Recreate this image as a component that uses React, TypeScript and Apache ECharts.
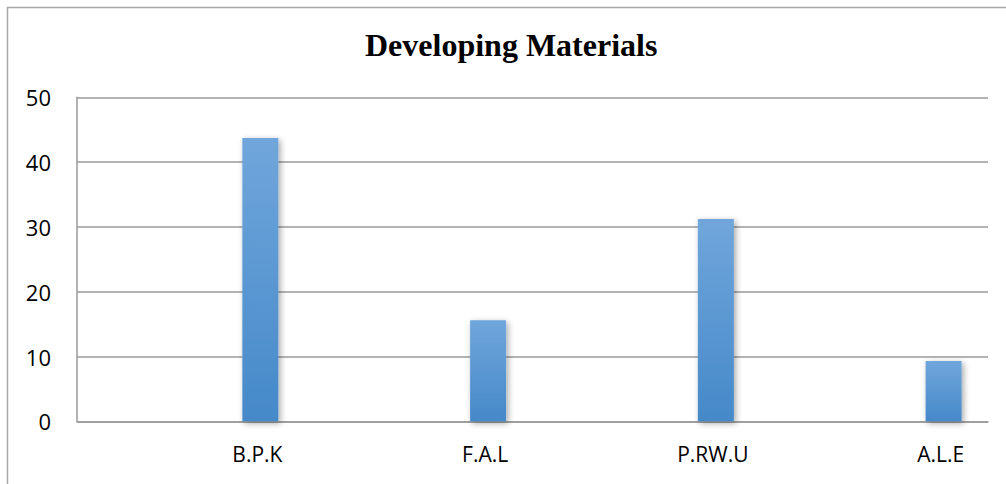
import React, { useEffect, useRef } from "react";
import * as echarts from "echarts";

const categories = ["B.P.K", "F.A.L", "P.RW.U", "A.L.E"];
const values = [43.7, 15.6, 31.2, 9.3];
const emptySeries = [null, null, null, null];
const yTicks = { min: 0, max: 50, interval: 10 };
const titleText = "Developing Materials";

export default function App() {
  const ref = useRef<HTMLDivElement>(null);
  useEffect(() => {
    if (!ref.current) return;
    const chart = echarts.init(ref.current, null, { renderer: "svg" });
    const barColor = new echarts.graphic.LinearGradient(0, 0, 0, 1, [
      { offset: 0, color: "#70a6db" },
      { offset: 1, color: "#4589c9" },
    ]);
    chart.setOption({
      animation: false,
      backgroundColor: "#ffffff",
      title: {
        text: titleText,
        left: 365,
        top: 29,
        padding: 0,
        textStyle: {
          fontFamily: "Liberation Serif",
          fontWeight: "bold",
          fontSize: 32,
          color: "#000000",
        },
      },
      graphic: [
        {
          type: "rect",
          shape: { x: 7.5, y: 7.5, width: 1100, height: 600 },
          style: { fill: "none", stroke: "#a6a6a6", lineWidth: 1.5 },
          silent: true,
        },
      ],
      grid: { left: 77, right: 18, top: 97.3, bottom: 62.7 },
      xAxis: {
        type: "category",
        data: categories,
        axisLine: { show: true, lineStyle: { color: "#9a9a9a", width: 1.5 } },
        axisTick: { show: false },
        axisLabel: {
          fontFamily: "Open Sans",
          fontSize: 21,
          color: "#000000",
          margin: 22,
          padding: [0, 0, 0, 133],
        },
      },
      yAxis: {
        type: "value",
        min: yTicks.min,
        max: yTicks.max,
        interval: yTicks.interval,
        axisLine: { show: true, lineStyle: { color: "#9a9a9a", width: 1.5 } },
        axisTick: { show: false },
        splitLine: { show: true, lineStyle: { color: "#9a9a9a", width: 1.5 } },
        axisLabel: {
          fontFamily: "Open Sans",
          fontSize: 22,
          color: "#000000",
          margin: 26,
        },
      },
      series: [
        {
          type: "bar",
          data: emptySeries,
          barWidth: 36,
          barGap: "286%",
        },
        {
          type: "bar",
          data: values,
          barWidth: 36,
          barGap: "286%",
          itemStyle: {
            color: barColor,
            shadowColor: "rgba(0,0,0,0.35)",
            shadowBlur: 6,
            shadowOffsetX: 2,
            shadowOffsetY: 2,
          },
        },
      ],
    });
    return () => chart.dispose();
  }, []);
  return (
    <div
      ref={ref}
      style={{ position: "fixed", left: 0, top: 0, width: 1006, height: 484 }}
    />
  );
}
